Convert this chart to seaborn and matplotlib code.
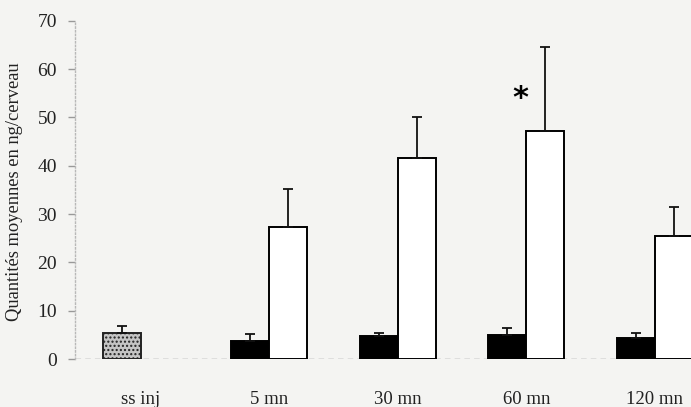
import numpy as np
import pandas as pd
import matplotlib
matplotlib.use("Agg")
import matplotlib.pyplot as plt
import seaborn as sns

# ---- data ----
categories = ["ss inj", "5 mn", "30 mn", "60 mn", "120 mn"]
series_names = ["A", "B"]
values_a = [5.4, 3.7, 4.8, 5.0, 4.3]
errors_a = [1.4, 1.5, 0.6, 1.4, 1.1]
values_b = [np.nan, 27.3, 41.6, 47.2, 25.5]
errors_b = [np.nan, 7.9, 8.5, 17.4, 6.0]
y_ticks = [0, 10, 20, 30, 40, 50, 60, 70]
y_label = "Quantités moyennes en ng/cerveau"
star_text = "*"

df = pd.DataFrame({
    "cat": categories * 2,
    "serie": [series_names[0]] * len(categories) + [series_names[1]] * len(categories),
    "val": values_a + values_b,
})
df = df.dropna()

sns.set_theme(style="white")
plt.rcParams["font.family"] = ["Liberation Serif", "DejaVu Serif"]

bg = "#f4f4f2"
fig = plt.figure(figsize=(6.91, 4.07), dpi=100, facecolor=bg)
ax = fig.add_axes([75 / 691, 1 - 359 / 407, 1 - 75 / 691, 359 / 407])
ax.set_facecolor(bg)

sns.barplot(data=df, x="cat", y="val", hue="serie", order=categories,
            hue_order=series_names, palette=["black", "white"],
            width=0.59, errorbar=None, edgecolor="black", linewidth=1.4,
            legend=False, ax=ax, zorder=3)

errs = {series_names[0]: errors_a, series_names[1]: errors_b}
for cont, name in zip(ax.containers, series_names):
    for bar in cont:
        xc = bar.get_x() + bar.get_width() / 2
        idx = int(round(xc))
        h = bar.get_height()
        if np.isnan(h):
            continue
        if name == series_names[0] and idx == 0:
            bar.set_facecolor("#c4c4c4")
            bar.set_hatch("....")
            bar.set_edgecolor("#222222")
        e = errs[name][idx]
        ax.errorbar(xc, h, yerr=[[0], [e]], fmt="none", ecolor="#111111",
                    elinewidth=1.3, capsize=3.6, capthick=1.3, zorder=4)

# asterisk
ax.text(2.95, 54, star_text, ha="center", va="center", fontsize=22,
        fontweight="bold", color="black", family="DejaVu Sans")

ax.set_xlim(-0.51, 4.28)
ax.set_ylim(0, 74.3)
ax.set_yticks(y_ticks)
ax.set_yticklabels([str(t) for t in y_ticks])
ax.set_xlabel("")
ax.set_ylabel(y_label, fontsize=13.3, color="#222222")
ax.yaxis.set_label_coords(-0.084, 0.465)

ax.axhline(0, color="#888888", lw=1.0, ls=(0, (4, 3)), zorder=2)

for s in ["top", "right", "bottom"]:
    ax.spines[s].set_visible(False)
ax.spines["left"].set_color("#b8b8b8")
ax.spines["left"].set_linestyle(":")
ax.spines["left"].set_linewidth(1.0)
ax.spines["left"].set_bounds(0, 70)

ax.tick_params(axis="y", which="both", left=True, length=5, width=1,
               color="#999999", labelsize=14, labelcolor="#222222", pad=8)
ax.tick_params(axis="x", bottom=False, labelsize=13.5, labelcolor="#222222", pad=17)

fig.savefig("out.png", dpi=100, facecolor=bg)
